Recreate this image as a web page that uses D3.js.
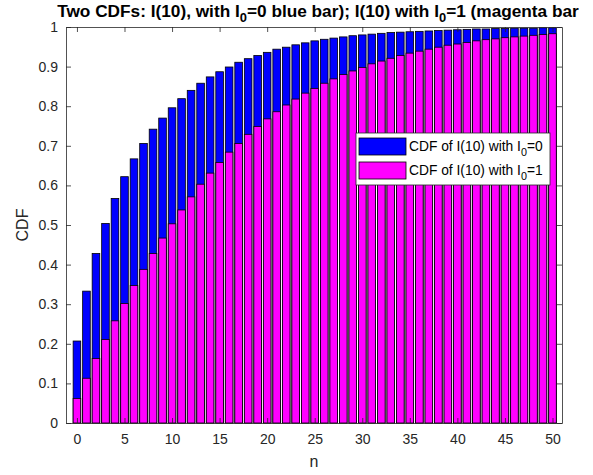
<!DOCTYPE html>
<html>
<head>
<meta charset="utf-8">
<script src="https://cdn.jsdelivr.net/npm/d3@7"></script>
<style>
  body { margin: 0; background: #fff; }
  svg { display: block; font-family: "Liberation Sans", Arial, Helvetica, sans-serif; }
</style>
</head>
<body>
<div id="chart"></div>
<script>
// n = 0..50
const nValues = d3.range(0, 51);

// CDF of I(10) with I0 = 0 (blue bars)
const cdfI0zero = [
  0.207, 0.333, 0.428, 0.504, 0.567, 0.622, 0.667, 0.706, 0.742, 0.770,
  0.796, 0.819, 0.840, 0.858, 0.874, 0.887, 0.899, 0.911, 0.920, 0.928,
  0.936, 0.944, 0.949, 0.955, 0.960, 0.965, 0.969, 0.972, 0.975, 0.978,
  0.980, 0.982, 0.984, 0.986, 0.987, 0.988, 0.989, 0.990, 0.991, 0.992,
  0.993, 0.994, 0.995, 0.995, 0.996, 0.996, 0.997, 0.997, 0.997, 0.998,
  0.998
];

// CDF of I(10) with I0 = 1 (magenta bars)
const cdfI0one = [
  0.062, 0.113, 0.163, 0.211, 0.258, 0.302, 0.347, 0.388, 0.428, 0.467,
  0.503, 0.538, 0.571, 0.603, 0.631, 0.658, 0.684, 0.706, 0.729, 0.749,
  0.768, 0.786, 0.803, 0.818, 0.833, 0.845, 0.858, 0.869, 0.880, 0.889,
  0.898, 0.907, 0.914, 0.921, 0.928, 0.934, 0.939, 0.944, 0.949, 0.954,
  0.957, 0.961, 0.965, 0.968, 0.970, 0.973, 0.975, 0.977, 0.979, 0.981,
  0.983
];

const xTicks = d3.range(0, 51, 5);
const yTicks = d3.range(0, 11).map(d => d / 10);

const series = [
  { label: "0", values: cdfI0zero, color: "#0000ff" },
  { label: "1", values: cdfI0one, color: "#ff00ff" }
];

const width = 593,
  height = 475,
  margin = { top: 27, right: 31, bottom: 52, left: 66 },
  axisColor = "#262626";

const svg = d3
  .select("#chart")
  .append("svg")
  .attr("width", width)
  .attr("height", height);

const x = d3
  .scaleLinear()
  .domain([-1.15, 51])
  .range([margin.left, width - margin.right]);

const y = d3
  .scaleLinear()
  .domain([0, 1])
  .range([height - margin.bottom, margin.top]);

const barW = (x(1) - x(0)) * 0.8;

// bars: blue first, magenta on top
series.forEach(s => {
  svg
    .append("g")
    .selectAll("rect")
    .data(nValues)
    .enter()
    .append("rect")
    .attr("x", d => x(d) - barW / 2)
    .attr("y", d => y(s.values[d]))
    .attr("width", barW)
    .attr("height", d => y(0) - y(s.values[d]))
    .attr("fill", s.color)
    .attr("stroke", "#000")
    .attr("stroke-width", 0.8);
});

// axes, MATLAB-style box with inward ticks
const tickLen = 5;

const gx = svg
  .append("g")
  .attr("transform", "translate(0," + y(0) + ")")
  .call(d3.axisBottom(x).tickValues(xTicks).tickSizeInner(-tickLen).tickSizeOuter(0).tickPadding(11));

const gxTop = svg
  .append("g")
  .attr("transform", "translate(0," + y(1) + ")")
  .call(d3.axisTop(x).tickValues(xTicks).tickSizeInner(-tickLen).tickSizeOuter(0).tickFormat(""));

const gy = svg
  .append("g")
  .attr("transform", "translate(" + x.range()[0] + ",0)")
  .call(d3.axisLeft(y).tickValues(yTicks).tickSizeInner(-tickLen).tickSizeOuter(0).tickPadding(8).tickFormat(d3.format("~g")));

const gyRight = svg
  .append("g")
  .attr("transform", "translate(" + x.range()[1] + ",0)")
  .call(d3.axisRight(y).tickValues(yTicks).tickSizeInner(-tickLen).tickSizeOuter(0).tickFormat(""));

[gx, gxTop, gy, gyRight].forEach(g => {
  g.select(".domain").attr("stroke", axisColor).attr("stroke-width", 0.8);
  g.selectAll(".tick line").attr("stroke", axisColor).attr("stroke-width", 0.8);
  g.selectAll(".tick text")
    .attr("fill", axisColor)
    .style("font-size", "14px")
    .style("font-family", "Liberation Sans, Arial, sans-serif");
});

// axis labels
svg
  .append("text")
  .attr("x", (x.range()[0] + x.range()[1]) / 2)
  .attr("y", 467)
  .attr("text-anchor", "middle")
  .attr("fill", axisColor)
  .style("font-size", "16px")
  .text("n");

svg
  .append("text")
  .attr("transform", "translate(28," + (y(0) + y(1)) / 2 + ") rotate(-90)")
  .attr("text-anchor", "middle")
  .attr("fill", axisColor)
  .style("font-size", "16px")
  .text("CDF");

// title (with subscripts), sized to span 57..579 like the reference
const title = svg
  .append("text")
  .attr("x", 318)
  .attr("y", 17)
  .attr("text-anchor", "middle")
  .attr("fill", "#000")
  .style("font-size", "16px")
  .style("font-weight", "bold");

const subs = [];
title.append("tspan").text("Two CDFs: I(10), with I");
subs.push(title.append("tspan").attr("dy", 5).text("0"));
title.append("tspan").attr("dy", -5).text("=0 blue bar); I(10) with I");
subs.push(title.append("tspan").attr("dy", 5).text("0"));
title.append("tspan").attr("dy", -5).text("=1 (magenta bar");

const setTitleSize = fs => {
  title.style("font-size", fs + "px");
  subs.forEach(s => s.style("font-size", fs * 0.75 + "px"));
};
setTitleSize(16);
const tw = title.node().getBBox().width;
setTitleSize(Math.min(19, (16 * 522) / tw));

// legend
const lg = svg.append("g").attr("transform", "translate(356,133)");

lg.append("rect")
  .attr("width", 194)
  .attr("height", 52)
  .attr("fill", "#fff")
  .attr("stroke", axisColor)
  .attr("stroke-width", 0.8);

const legendTexts = [];
series.forEach((s, i) => {
  const row = lg.append("g").attr("transform", "translate(0," + (5 + i * 24) + ")");
  row
    .append("rect")
    .attr("x", 3)
    .attr("y", 0)
    .attr("width", 47)
    .attr("height", 17)
    .attr("fill", s.color)
    .attr("stroke", "#000")
    .attr("stroke-width", 0.8);
  const t = row
    .append("text")
    .attr("x", 53)
    .attr("y", 13)
    .attr("fill", "#000")
    .style("font-size", "14px");
  t.append("tspan").text("CDF of I(10) with I");
  t.append("tspan").attr("dy", 5).attr("class", "sub").style("font-size", "11px").text("0");
  t.append("tspan").attr("dy", -5).text("=" + s.label);
  legendTexts.push(t);
});

// fit legend text to 134px like the reference
const lw = legendTexts[0].node().getBBox().width;
const lfs = Math.min(15, (14 * 134) / lw);
legendTexts.forEach(t => {
  t.style("font-size", lfs + "px");
  t.select(".sub").style("font-size", lfs * 0.78 + "px");
});
</script>
</body>
</html>
